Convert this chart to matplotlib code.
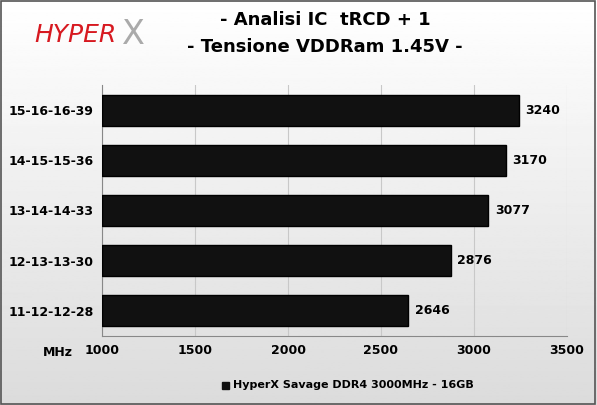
import matplotlib
matplotlib.use("Agg")
import matplotlib.pyplot as plt
import numpy as np
from matplotlib.patches import Rectangle

categories = ["15-16-16-39", "14-15-15-36", "13-14-14-33", "12-13-13-30", "11-12-12-28"]
values = [3240, 3170, 3077, 2876, 2646]
xticks = [1000, 1500, 2000, 2500, 3000, 3500]
series_name = "HyperX Savage DDR4 3000MHz - 16GB"

W, H = 597, 405
fig = plt.figure(figsize=(W/100, H/100), dpi=100)
bg = fig.add_axes([0, 0, 1, 1], zorder=-10)
grad = np.linspace(1, 0.86, 256).reshape(-1, 1)
bg.imshow(grad, cmap="gray", vmin=0, vmax=1, aspect="auto", extent=[0, 1, 0, 1])
bg.add_patch(Rectangle((0.002, 0.003), 0.995, 0.994, fill=False, ec="#555555", lw=1.2))
bg.axis("off")

left, right = 102/W, 567/W
top, bottom = 1 - 85/H, 1 - 336/H
ax = fig.add_axes([left, bottom, right-left, top-bottom])
ax.patch.set_alpha(0)
y = np.arange(len(categories))
bars = ax.barh(y, [v - 1000 for v in values], left=1000, height=0.62, color="#111111",
               edgecolor="#000000", zorder=3)
ax.set_xlim(1000, 3500)
ax.set_ylim(len(categories) - 0.5, -0.5)
ax.set_xticks(xticks)
ax.set_xticklabels([str(t) for t in xticks], fontsize=9, fontweight="bold")
ax.set_yticks(y)
ax.set_yticklabels(categories, fontsize=9, fontweight="bold")
ax.tick_params(length=0, pad=6)
ax.grid(axis="x", color="#c8c8c8", lw=0.8, zorder=0)
for s in ["top", "right"]:
    ax.spines[s].set_visible(False)
ax.spines["left"].set_color("#888888")
ax.spines["bottom"].set_color("#888888")
for yi, v in zip(y, values):
    ax.text(v + 35, yi, str(v), va="center", ha="left", fontsize=9, fontweight="bold")

fig.text(58/W, 1 - 352/H, "MHz", fontsize=9, fontweight="bold", ha="center", va="center")
fig.text(325/W, 1 - 20/H, "- Analisi IC  tRCD + 1", fontsize=13, fontweight="bold", ha="center", va="center")
fig.text(325/W, 1 - 47/H, "- Tensione VDDRam 1.45V -", fontsize=13, fontweight="bold", ha="center", va="center")
fig.text(75/W, 1 - 35/H, "HYPER", fontsize=18, fontstyle="italic", color="#d71920", ha="center", va="center")
fig.text(133/W, 1 - 35/H, "X", fontsize=24, color="#aaaaaa", ha="center", va="center")
fig.add_artist(Rectangle((222/W, 1 - 389/H), 7/W, 7/H, color="#111111", transform=fig.transFigure))
fig.text(233/W, 1 - 385/H, series_name, fontsize=8, fontweight="bold", ha="left", va="center")
fig.savefig("out.png", dpi=100)
